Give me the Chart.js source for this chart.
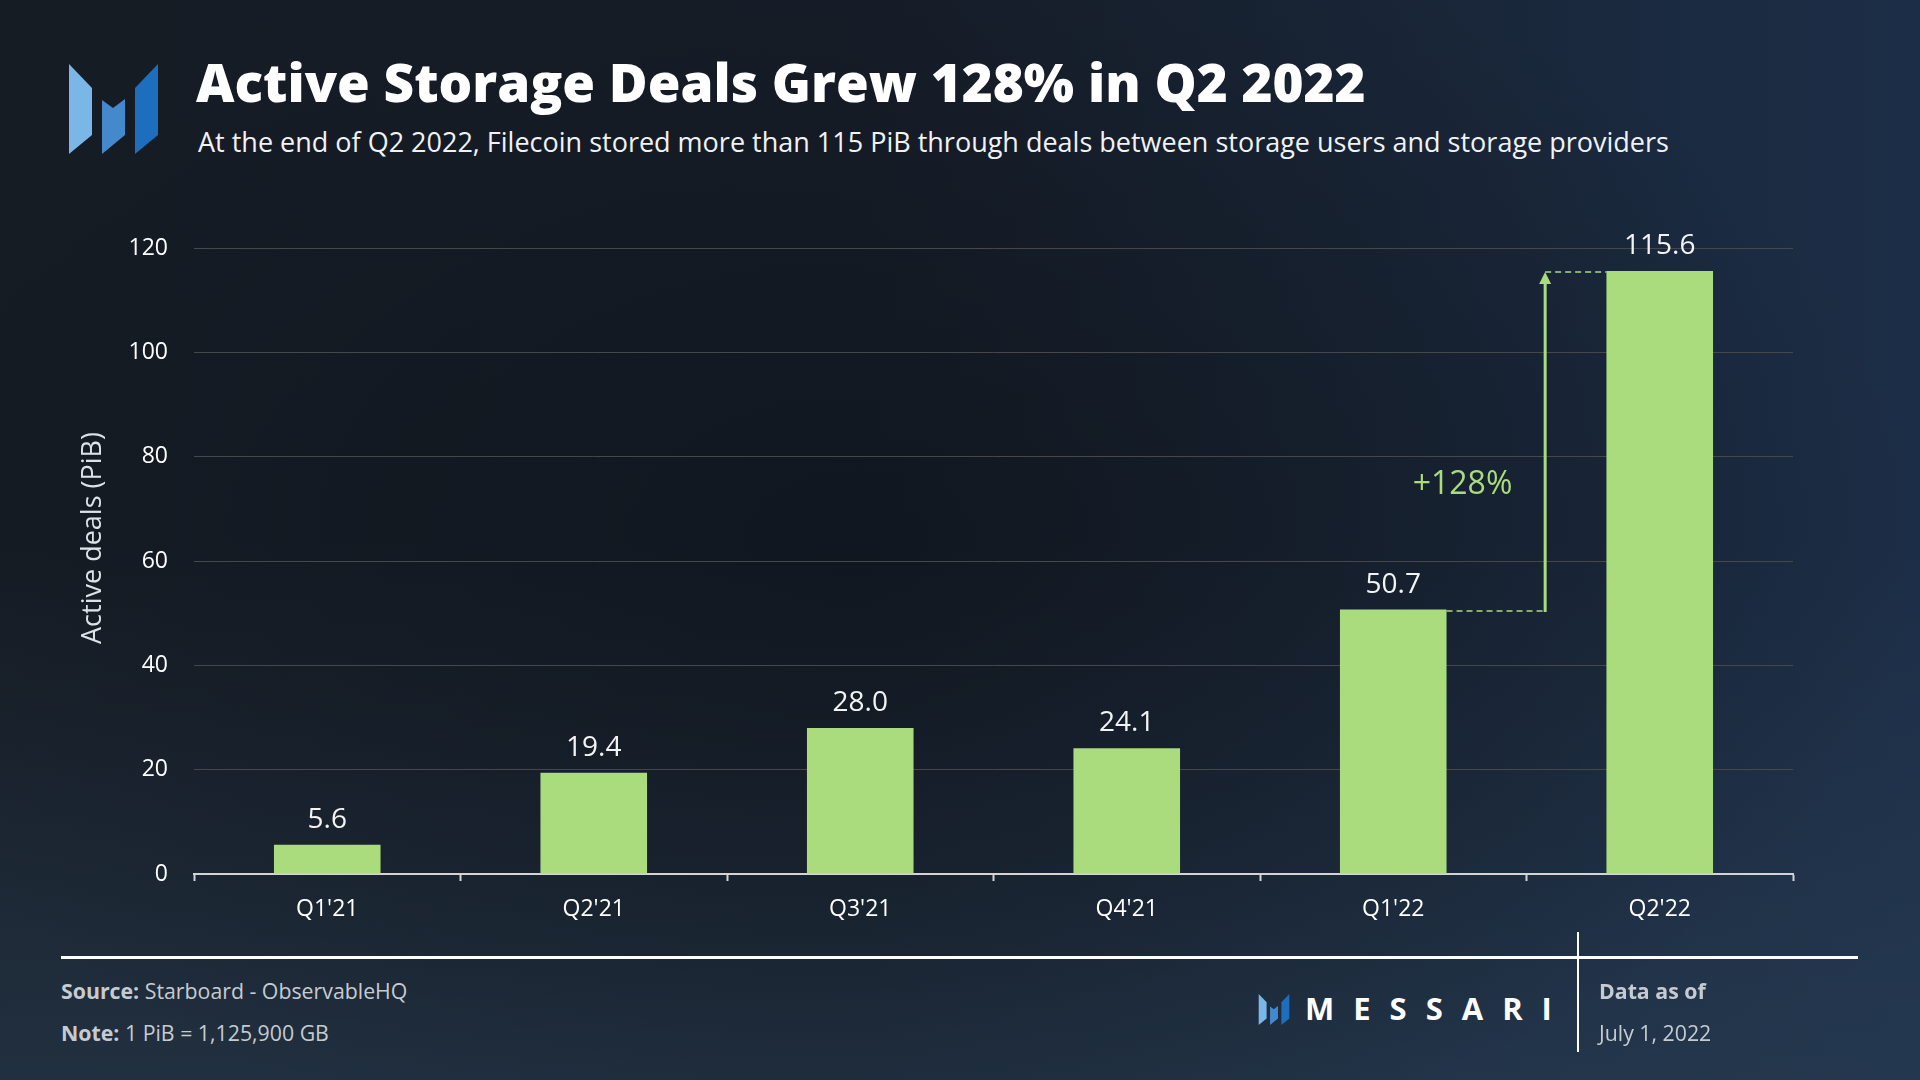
<!DOCTYPE html>
<html>
<head>
<meta charset="utf-8">
<script src="https://cdn.jsdelivr.net/npm/chart.js@4.4.1/dist/chart.umd.min.js"></script>
<style>
  html, body { margin:0; padding:0; width:1920px; height:1080px; overflow:hidden; }
  body {
    position:relative;
    font-family:"Open Sans", sans-serif;
    background:
      radial-gradient(ellipse 55% 60% at 45% 50%, rgba(15,21,29,0.75) 0%, rgba(15,21,29,0) 100%),
      linear-gradient(180deg, rgba(0,0,0,0) 50%, rgba(42,64,86,0.55) 100%),
      linear-gradient(90deg, #161c24 0%, #161d28 45%, #1c2e47 100%);
  }
  #wrap { position:absolute; left:0; top:0; width:1920px; height:960px; }
  .t { position:absolute; white-space:nowrap; line-height:1; }
  #title { left:196px; top:55px; font-size:53px; font-weight:800; color:#ffffff; }
  #subtitle { left:198px; top:128px; font-size:27px; font-weight:400; color:#f0f2f4; }
  #hline { position:absolute; left:61px; top:956px; width:1797px; height:3px; background:#ffffff; }
  #vline { position:absolute; left:1577px; top:932px; width:2px; height:120px; background:#ffffff; }
  .foot { font-size:21.3px; color:#c6cbd1; }
  .foot b { font-weight:700; }
  #src { left:61px; top:980px; }
  #note { left:61px; top:1022px; }
  #asof { left:1599px; top:980px; font-weight:700; }
  #date { left:1599px; top:1022px; }
  #messari { left:1305px; top:993px; font-size:31px; font-weight:700; color:#ffffff; letter-spacing:19px; }
  #logo { position:absolute; left:69px; top:64px; width:89px; height:90px; }
  #logo2 { position:absolute; left:1258px; top:994px; width:32px; height:31px; }
</style>
</head>
<body>
<svg id="logo" viewBox="0 0 89 90">
  <polygon points="0,0 23,24 23,71 0,90" fill="#7ab7e7"/>
  <polygon points="33,36 44,44 56,35 56,71 33,90" fill="#4489cc"/>
  <polygon points="89,0 89,71 66,90 66,24" fill="#1d6fbe"/>
</svg>
<div id="title" class="t">Active Storage Deals Grew 128% in Q2 2022</div>
<div id="subtitle" class="t">At the end of Q2 2022, Filecoin stored more than 115 PiB through deals between storage users and storage providers</div>
<div id="wrap"><canvas id="c"></canvas></div>
<div id="hline"></div>
<div id="vline"></div>
<div id="src" class="t foot"><b>Source:</b> Starboard - ObservableHQ</div>
<div id="note" class="t foot"><b>Note:</b> 1 PiB = 1,125,900 GB</div>
<svg id="logo2" viewBox="0 0 89 90">
  <polygon points="0,0 23,24 23,71 0,90" fill="#7ab7e7"/>
  <polygon points="33,36 44,44 56,35 56,71 33,90" fill="#4489cc"/>
  <polygon points="89,0 89,71 66,90 66,24" fill="#1d6fbe"/>
</svg>
<div id="messari" class="t">MESSARI</div>
<div id="asof" class="t foot">Data as of</div>
<div id="date" class="t foot">July 1, 2022</div>

<script>
// ---- data ----
const categories = ["Q1'21", "Q2'21", "Q3'21", "Q4'21", "Q1'22", "Q2'22"];
const activeDeals = [5.6, 19.4, 28.0, 24.1, 50.7, 115.6];
const yTicks = [0, 20, 40, 60, 80, 100, 120];
const yAxisTitle = "Active deals (PiB)";
const growthFrom = 4;   // index of Q1'22
const growthTo = 5;     // index of Q2'22
const arrowCategoryPos = 4.57;  // category-axis position of the arrow
const growthLabelPos = [4.26, 74.5]; // category-axis position, value

const green = '#aadb7c';

const overlay = {
  id: 'overlay',
  afterDraw(chart) {
    const ctx = chart.ctx;
    const xs = chart.scales.x, ys = chart.scales.y;
    const meta = chart.getDatasetMeta(0);
    ctx.save();
    // y axis title
    ctx.save();
    ctx.translate(101, (ys.getPixelForValue(yTicks[yTicks.length-1]) + ys.getPixelForValue(yTicks[0])) / 2 - 23);
    ctx.rotate(-Math.PI / 2);
    ctx.font = '400 27px "Open Sans"';
    ctx.fillStyle = '#dde2e7';
    ctx.textAlign = 'center';
    ctx.textBaseline = 'alphabetic';
    ctx.fillText(yAxisTitle, 0, 0);
    ctx.restore();

    // value labels
    ctx.font = '400 28px "Open Sans"';
    ctx.fillStyle = '#f3f3f3';
    ctx.textAlign = 'center';
    ctx.textBaseline = 'alphabetic';
    meta.data.forEach((bar, i) => {
      ctx.fillText(activeDeals[i].toFixed(1), bar.x, bar.y - 17);
    });

    // growth annotation
    const b0 = meta.data[growthFrom], b1 = meta.data[growthTo];
    const ax = xs.getPixelForValue(arrowCategoryPos);
    const y0 = ys.getPixelForValue(activeDeals[growthFrom]) + 1.5;
    const y1 = ys.getPixelForValue(activeDeals[growthTo]) + 1;
    ctx.strokeStyle = green;
    ctx.fillStyle = green;
    // dashed connectors
    ctx.lineWidth = 1.6;
    ctx.setLineDash([6, 4]);
    ctx.beginPath();
    ctx.moveTo(b0.x + b0.width / 2, y0);
    ctx.lineTo(ax, y0);
    ctx.moveTo(ax, y1);
    ctx.lineTo(b1.x - b1.width / 2, y1);
    ctx.stroke();
    ctx.setLineDash([]);
    // arrow shaft
    ctx.lineWidth = 3;
    ctx.beginPath();
    ctx.moveTo(ax, y0 + 1);
    ctx.lineTo(ax, y1 + 9);
    ctx.stroke();
    // arrow head
    ctx.beginPath();
    ctx.moveTo(ax, y1);
    ctx.lineTo(ax - 6, y1 + 12);
    ctx.lineTo(ax + 6, y1 + 12);
    ctx.closePath();
    ctx.fill();
    // growth text
    const pct = Math.round((activeDeals[growthTo] / activeDeals[growthFrom] - 1) * 100);
    ctx.font = '400 32px "Open Sans"';
    ctx.textAlign = 'center';
    ctx.textBaseline = 'middle';
    ctx.fillText('+' + pct + '%', xs.getPixelForValue(growthLabelPos[0]), ys.getPixelForValue(growthLabelPos[1]));
    ctx.restore();
  }
};

new Chart(document.getElementById('c'), {
  type: 'bar',
  data: {
    labels: categories,
    datasets: [{
      data: activeDeals,
      backgroundColor: green,
      borderWidth: 0,
      barPercentage: 0.4,
      categoryPercentage: 1.0
    }]
  },
  options: {
    responsive: true,
    maintainAspectRatio: false,
    animation: false,
    layout: { padding: { left: 0, right: 127, top: 248, bottom: 0 } },
    plugins: { legend: { display: false }, tooltip: { enabled: false } },
    scales: {
      x: {
        afterFit(s) { s.height = 86; },
        grid: {
          display: true, drawOnChartArea: false, drawTicks: true,
          tickLength: 7, tickColor: '#d4d4d4', tickWidth: 2, offset: true
        },
        border: { display: true, color: '#d4d4d4', width: 2 },
        ticks: { color: '#ffffff', font: { family: 'Open Sans', size: 23 }, padding: 15, maxRotation: 0 }
      },
      y: {
        min: yTicks[0], max: yTicks[yTicks.length - 1],
        afterFit(s) { s.width = 194; },
        afterBuildTicks(s) { s.ticks = yTicks.map(v => ({ value: v })); },
        grid: { color: '#46474a', lineWidth: 1, drawTicks: false },
        border: { display: false },
        ticks: { color: '#ffffff', font: { family: 'Open Sans', size: 23 }, padding: 26 }
      }
    }
  },
  plugins: [overlay]
});
</script>
</body>
</html>
